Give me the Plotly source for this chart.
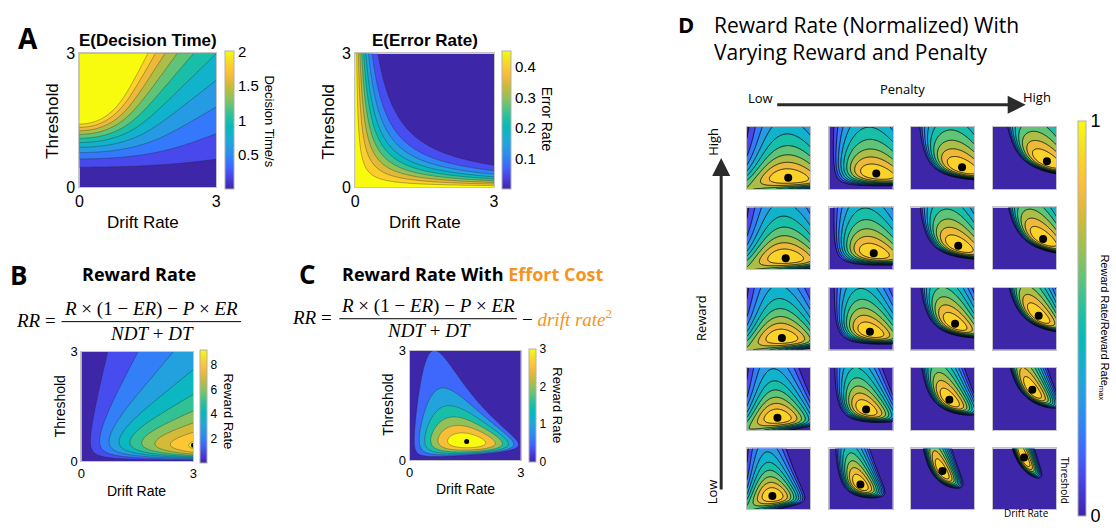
import numpy as np
import plotly.graph_objects as go

W, H = 1116, 531

# ---------------- data / model parameters ----------------
DRIFT_MAX = 3.0
THRESH_MAX = 3.0
N_FINE = 161
N_SMALL = 101
# panels B, C
NDT_BC = 0.3
REWARD_BC = 4.55
PENALTY_BC = 4.55
EFFORT_WEIGHT = 1.0
# panel D
NDT_D = 1.0
REWARD_LEVELS = [30.0, 25.0, 20.0, 15.0, 10.0]   # rows, top (high) -> bottom (low)
PENALTY_LEVELS = [5.0, 40.0, 250.0, 1400.0]      # columns, left (low) -> right (high)

PARULA = [(0.00, (62, 38, 168)), (0.05, (70, 52, 206)), (0.10, (72, 72, 236)), (0.15, (67, 96, 252)),
          (0.20, (52, 120, 252)), (0.25, (45, 140, 240)), (0.30, (38, 155, 228)), (0.35, (30, 168, 216)),
          (0.40, (17, 178, 203)), (0.45, (8, 185, 186)), (0.50, (24, 190, 168)), (0.55, (55, 194, 145)),
          (0.60, (95, 196, 120)), (0.65, (136, 194, 95)), (0.70, (172, 190, 72)), (0.75, (206, 186, 56)),
          (0.80, (236, 185, 58)), (0.85, (253, 192, 56)), (0.90, (250, 210, 42)), (0.95, (245, 230, 32)),
          (1.00, (249, 251, 14))]
PARULA_SCALE = [[t, 'rgb(%d,%d,%d)' % c] for t, c in PARULA]


def parula(t):
    t = min(max(t, 0.0), 1.0)
    for (t0, c0), (t1, c1) in zip(PARULA[:-1], PARULA[1:]):
        if t <= t1:
            f = (t - t0) / (t1 - t0)
            return 'rgb(%d,%d,%d)' % tuple(round(c0[k] + f * (c1[k] - c0[k])) for k in range(3))
    return 'rgb(%d,%d,%d)' % PARULA[-1][1]


def band_scale(start, end, size, c0, c1):
    nc = int(round((end - start) / size)) + 1
    return [[j / nc, parula((start - size + j * size - c0) / (c1 - c0))] for j in range(nc + 1)]


def error_rate(V, A):
    return 1.0 / (1.0 + np.exp(2 * V * A))


def decision_time(V, A):
    Vs = np.where(V > 1e-9, V, 1.0)
    return np.where(V > 1e-9, A / Vs * np.tanh(Vs * A), A * A)


def reward_rate(V, A, R, P, ndt):
    er = error_rate(V, A)
    return (R * (1 - er) - P * er) / (ndt + decision_time(V, A))


v = np.linspace(0, DRIFT_MAX, N_FINE)
a = np.linspace(0, THRESH_MAX, N_FINE)
V, A = np.meshgrid(v, a)
vs = np.linspace(0, DRIFT_MAX, N_SMALL)
as_ = np.linspace(0, THRESH_MAX, N_SMALL)
VS, AS = np.meshgrid(vs, as_)

fig = go.Figure()
layout = dict(width=W, height=H, margin=dict(l=0, r=0, t=0, b=0), paper_bgcolor='white',
              plot_bgcolor='white', showlegend=False)
SANS = 'Liberation Sans, Arial, sans-serif'
HUM = 'Open Sans, sans-serif'
SERIF = 'Liberation Serif, serif'
annotations = []
shapes = []


def ann(text, x, y, size, family=SANS, angle=0, color='black', xanchor='center', yanchor='middle', align='center'):
    annotations.append(dict(text=text, x=x / W, y=1 - y / H, xref='paper', yref='paper', showarrow=False,
                            font=dict(size=size, family=family, color=color), textangle=angle,
                            xanchor=xanchor, yanchor=yanchor, align=align))


def arrow(x0, y0, x1, y1):
    annotations.append(dict(text='', x=x1 / W, y=1 - y1 / H, xref='paper', yref='paper', showarrow=True,
                            ax=x0 - x1, ay=y0 - y1, arrowhead=2, arrowsize=1.2, arrowwidth=3,
                            arrowcolor='#2b2b2b', standoff=0, startstandoff=0))


def hline(x0, x1, y):
    shapes.append(dict(type='line', xref='paper', yref='paper', x0=x0 / W, x1=x1 / W, y0=1 - y / H, y1=1 - y / H,
                       line=dict(color='black', width=1)))


def axis_pair(n, x0, x1, yt, yb, ticklabels, fs=15):
    s = '' if n == 1 else str(n)
    common = dict(range=[0, 3], showgrid=False, zeroline=False, showline=True, mirror=True,
                  linecolor='#c4c4c4', linewidth=1, ticks='', tickvals=[0, 3] if ticklabels else [],
                  showticklabels=ticklabels, tickfont=dict(size=fs, family=SANS, color='black'))
    layout['xaxis' + s] = dict(domain=[x0 / W, x1 / W], anchor='y' + s, **common)
    layout['yaxis' + s] = dict(domain=[1 - yb / H, 1 - yt / H], anchor='x' + s, **common)
    return 'x' + s, 'y' + s


def contour(xg, yg, z, xa, ya, start, end, size, c0, c1, lw, lc):
    fig.add_trace(go.Contour(x=xg, y=yg, z=z, xaxis=xa, yaxis=ya, autocontour=False,
                             contours=dict(start=start, end=end, size=size, coloring='fill', showlines=True),
                             colorscale=band_scale(start, end, size, c0, c1), showscale=False,
                             line=dict(width=lw, color=lc), hoverinfo='skip'))


def cbar(xa, ya, c0, c1, xpx, ytop, ybot, thick, tickvals, fs):
    cb = dict(x=xpx / W, xanchor='left', y=1 - (ytop + ybot) / 2 / H, yanchor='middle',
              len=ybot - ytop, lenmode='pixels', thickness=thick, thicknessmode='pixels', xpad=0, ypad=0,
              tickvals=tickvals, ticks='', outlinewidth=1, outlinecolor='#b0b0b0',
              tickfont=dict(size=fs, family=SANS, color='black'))
    mk = dict(color=[c0, c1], colorscale=PARULA_SCALE, cmin=c0, cmax=c1, showscale=True, colorbar=cb)
    fig.add_trace(go.Scatter(x=[None, None], y=[None, None], xaxis=xa, yaxis=ya, mode='markers',
                             hoverinfo='skip', marker=mk))


def dot(xg, yg, xa, ya, z, size):
    i, j = np.unravel_index(np.argmax(z), z.shape)
    fig.add_trace(go.Scatter(x=[xg[j]], y=[yg[i]], xaxis=xa, yaxis=ya, mode='markers', hoverinfo='skip',
                             marker=dict(color='black', size=size)))


LINE_A = 'rgba(40,40,40,0.7)'

# ---------------- panel A ----------------
xa, ya = axis_pair(1, 76, 214, 47, 185, True, 16)
contour(v, a, decision_time(V, A), xa, ya, 0.2, 2.0, 0.2, 0.0, 2.0, 0.5, LINE_A)
cbar(xa, ya, 0.0, 2.0, 223, 47, 185, 9, [0.5, 1, 1.5, 2], 15)
xa, ya = axis_pair(2, 354, 494, 47, 185, True, 16)
contour(v, a, error_rate(V, A), xa, ya, 0.05, 0.45, 0.05, 0.0, 0.45, 0.5, LINE_A)
cbar(xa, ya, 0.0, 0.45, 502, 47, 185, 9, [0.1, 0.2, 0.3, 0.4], 15)

ann('<b>A</b>', 24, 31, 28, HUM)
ann('<b>E(Decision Time)</b>', 145, 34, 17)
ann('<b>E(Error Rate)</b>', 424, 34, 17)
ann('Threshold', 49, 117, 17, angle=-90)
ann('Threshold', 327, 117, 17, angle=-90)
ann('Drift Rate', 140, 222, 17)
ann('Drift Rate', 424, 222, 17)
ann('Decision Time/s', 268, 117, 13, angle=90)
ann('Error Rate', 547, 115, 14, angle=90)

# ---------------- panel B ----------------
zB = reward_rate(V, A, REWARD_BC, PENALTY_BC, NDT_BC)
xa, ya = axis_pair(3, 78, 191, 355, 468, True, 13)
contour(v, a, zB, xa, ya, 1, 9, 1, 0.0, float(zB.max()), 0.5, LINE_A)
cbar(xa, ya, 0.0, float(zB.max()), 198, 355, 468, 7, [2, 4, 6, 8], 12)
dot(v, a, xa, ya, zB, 5)
ann('<b>B</b>', 15, 276, 26, HUM)
ann('<b>Reward Rate</b>', 136, 275, 18, HUM)
ann('Threshold', 56, 412, 14, angle=-90)
ann('Drift Rate', 134, 499, 14)
ann('Reward Rate', 226, 417, 13, angle=90)
NUM = '<i>R</i> × (1 − <i>ER</i>) − <i>P</i> × <i>ER</i>'
DEN = '<i>NDT</i> + <i>DT</i>'
ann('<i>RR</i> =', 32, 323, 19, SERIF)
ann(NUM, 148, 311, 19, SERIF)
ann(DEN, 149, 336, 19, SERIF)
hline(58, 239, 324)

# ---------------- panel C ----------------
zC = zB - EFFORT_WEIGHT * V ** 2
xa, ya = axis_pair(4, 409, 521, 354, 467, True, 13)
contour(v, a, zC, xa, ya, 0.5, 3.0, 0.5, 0.0, 3.0, 0.5, LINE_A)
cbar(xa, ya, 0.0, 3.0, 529, 354, 467, 7, [0, 1, 2, 3], 12)
dot(v, a, xa, ya, zC, 5)
ORANGE = '#F7941D'
ann('<b>C</b>', 306, 275, 26, HUM)
ann('<b>Reward Rate With <span style="color:%s">Effort Cost</span></b>' % ORANGE, 473, 275, 18, HUM)
ann('Threshold', 387, 410, 14, angle=-90)
ann('Drift Rate', 465, 497, 14)
ann('Reward Rate', 558, 410, 13, angle=90)
ann('<i>RR</i> =', 310, 320, 19, SERIF)
ann(NUM, 427, 308, 19, SERIF)
ann(DEN, 428, 333, 19, SERIF)
ann('− <span style="color:%s"><i>drift rate</i><sup>2</sup></span>' % ORANGE, 520, 320, 19, SERIF, xanchor='left')
hline(338, 517, 321)

# ---------------- panel D ----------------
D_COLS = [(749, 813), (832, 896), (914, 978), (997, 1061)]
D_ROWS = [(123, 187), (206, 270), (289, 353), (372, 436), (455, 518)]
n = 10
for r, R in enumerate(REWARD_LEVELS):
    for c, P in enumerate(PENALTY_LEVELS):
        n += 1
        xa, ya = axis_pair(n, D_COLS[c][0], D_COLS[c][1], D_ROWS[r][0], D_ROWS[r][1], False)
        f = reward_rate(VS, AS, R, P, NDT_D) - EFFORT_WEIGHT * VS ** 2
        zn = np.clip(f, 0, None) / f.max()
        contour(vs, as_, zn, xa, ya, 0.1, 1.0, 0.1, 0.0, 1.0, 0.8, 'black')
        dot(vs, as_, xa, ya, zn, 8)
        if r == 0 and c == 0:
            cbar(xa, ya, 0.0, 1.0, 1083, 123, 518, 8, [0, 1], 18)

ann('<b>D</b>', 688, 17, 22, HUM)
ann('Reward Rate (Normalized) With<br>Varying Reward and Penalty', 714, 32, 21, HUM,
    xanchor='left', align='left')
ann('Penalty', 906, 84, 13, HUM)
ann('Low', 763, 93, 13, HUM)
ann('High', 1041, 92, 13, HUM)
arrow(780, 100, 1030, 100)
arrow(723, 488, 723, 155)
ann('High', 714, 138, 13, HUM, angle=-90)
ann('Low', 714, 500, 13, HUM, angle=-90)
ann('Reward', 702, 320, 13, HUM, angle=-90)
ann('Threshold', 1069, 488, 10, HUM, angle=90)
ann('Drift Rate', 1031, 522, 10, HUM)
ann('Reward Rate/Reward Rate<sub>max</sub>', 1109, 330, 11, SANS, angle=90)

layout['annotations'] = annotations
layout['shapes'] = shapes
fig.update_layout(**layout)
fig.write_html('out.html', config={'displayModeBar': False},
               post_script="document.body.style.margin='0px';")
